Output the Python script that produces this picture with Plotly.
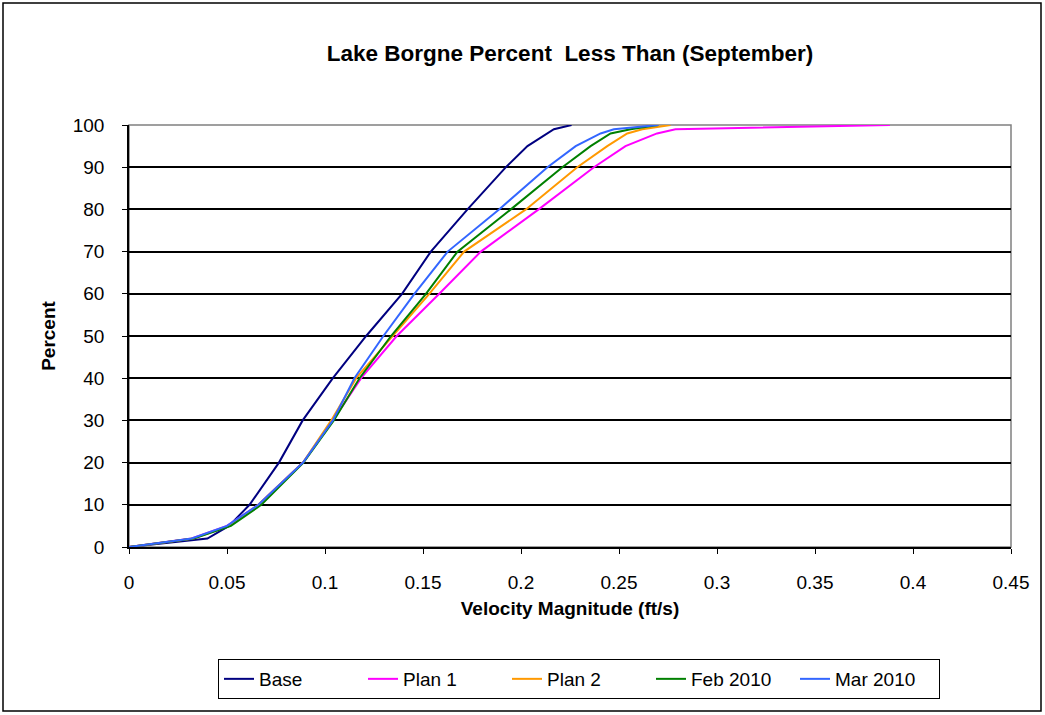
import plotly.graph_objects as go

# Data (velocity magnitude ft/s vs percent less than)
base_p = [0, 2, 5, 10, 20, 30, 40, 50, 60, 70, 80, 90, 95, 99, 100]
base_v = [0, 0.040, 0.051, 0.0615, 0.0765, 0.0886, 0.104, 0.121, 0.1393, 0.154, 0.1727, 0.1923, 0.2033, 0.2168, 0.2258]

plan_p = [0, 2, 5, 10, 20, 30, 40, 50, 60, 70, 80, 90, 95, 98, 99, 100]
plan1_v = [0, 0.032, 0.050, 0.066, 0.0888, 0.104, 0.1184, 0.1366, 0.1583, 0.1795, 0.209, 0.2372, 0.2533, 0.2694, 0.2788, 0.3882]
plan2_v = [0, 0.033, 0.051, 0.066, 0.0888, 0.1032, 0.1159, 0.1346, 0.1532, 0.171, 0.2025, 0.2287, 0.244, 0.2542, 0.2619, 0.2763]
feb_v = [0, 0.033, 0.052, 0.0675, 0.0890, 0.1045, 0.1176, 0.1337, 0.1515, 0.1676, 0.1948, 0.2211, 0.2355, 0.2457, 0.2559, 0.270]
mar_v = [0, 0.032, 0.050, 0.066, 0.0888, 0.104, 0.115, 0.1298, 0.1456, 0.1626, 0.1888, 0.2135, 0.2279, 0.2406, 0.2474, 0.270]

x_ticks = [0, 0.05, 0.1, 0.15, 0.2, 0.25, 0.3, 0.35, 0.4, 0.45]
x_labels = ["0", "0.05", "0.1", "0.15", "0.2", "0.25", "0.3", "0.35", "0.4", "0.45"]
y_ticks = list(range(0, 101, 10))

series = [
    ("Base", base_v, base_p, "#000080"),
    ("Plan 1", plan1_v, plan_p, "#FF00FF"),
    ("Plan 2", plan2_v, plan_p, "#FF9900"),
    ("Feb 2010", feb_v, plan_p, "#008000"),
    ("Mar 2010", mar_v, plan_p, "#3366FF"),
]

FONT = "Arial, Liberation Sans, sans-serif"
W, H = 1045, 715
L, R, T, B = 129, 34, 125, 168
PW, PH = W - L - R, H - T - B

fig = go.Figure()
for name, xv, yv, col in series:
    fig.add_trace(go.Scatter(x=xv, y=yv, mode="lines", name=name,
                             line=dict(color=col, width=2)))

fig.update_layout(
    width=W, height=H,
    margin=dict(l=L, r=R, t=T, b=B, autoexpand=False),
    paper_bgcolor="white", plot_bgcolor="white",
    font=dict(family=FONT, size=19, color="black"),
    title=dict(text="<b>Lake Borgne Percent  Less Than (September)</b>",
               x=(L + PW / 2) / W, xanchor="center", y=1 - 53 / H, yanchor="middle",
               font=dict(family=FONT, size=22.5, color="black")),
    showlegend=True,
    legend=dict(orientation="h", x=(579 - L) / PW, xanchor="center",
                y=-(659 - (H - B)) / PH, yanchor="top",
                bordercolor="black", borderwidth=1, bgcolor="white",
                font=dict(family=FONT, size=19, color="black"),
                entrywidth=99, entrywidthmode="pixels", traceorder="normal"),
    shapes=[
        dict(type="rect", xref="paper", yref="paper", x0=0, x1=1, y0=0, y1=1,
             line=dict(color="#808080", width=1.5), layer="between"),
        dict(type="rect", xref="paper", yref="paper",
             x0=(3 - L) / PW, x1=(1041 - L) / PW,
             y0=-(711 - (H - B)) / PH, y1=((H - B) - 3) / PH,
             line=dict(color="black", width=1.5), layer="below"),
    ],
)

fig.update_xaxes(range=[0, 0.45], tickvals=x_ticks, ticktext=x_labels,
                 showgrid=False, zeroline=False, showline=True, linecolor="black", linewidth=1.5,
                 ticks="outside", ticklen=5, tickcolor="black", tickwidth=1,
                 ticklabelstandoff=12,
                 tickfont=dict(family=FONT, size=19),
                 title=dict(text="<b>Velocity Magnitude (ft/s)</b>", font=dict(family=FONT, size=19), standoff=10))
fig.update_yaxes(range=[0, 100], tickvals=y_ticks,
                 showgrid=True, gridcolor="black", gridwidth=1.6, zeroline=False,
                 showline=True, linecolor="black", linewidth=1.5,
                 ticks="outside", ticklen=5, tickcolor="black", tickwidth=1,
                 ticklabelstandoff=14,
                 tickfont=dict(family=FONT, size=19),
                 title=dict(text="<b>Percent</b>", font=dict(family=FONT, size=19), standoff=12))

fig.write_html("out.html", config={"displayModeBar": False},
               post_script="document.body.style.margin='0';")
